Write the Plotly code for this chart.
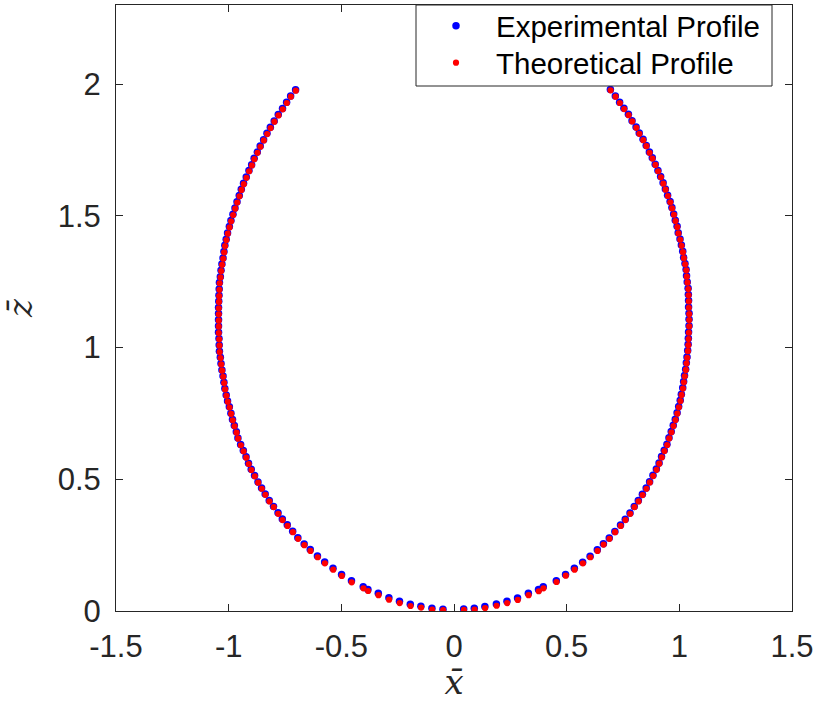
import plotly.graph_objects as go

# ---------------- data ----------------
# Theoretical profile, left branch (top -> bottom)
theo_x_left = [-0.702, -0.724, -0.742, -0.760, -0.779, -0.797, -0.814, -0.829, -0.844, -0.859,
               -0.872, -0.886, -0.897, -0.909, -0.921, -0.933, -0.943, -0.952, -0.962, -0.971,
               -0.980, -0.989, -0.996, -1.004, -1.010, -1.016, -1.020, -1.024, -1.029, -1.033,
               -1.036, -1.040, -1.041, -1.042, -1.043, -1.044, -1.044, -1.044, -1.044, -1.044,
               -1.042, -1.041, -1.040, -1.036, -1.033, -1.029, -1.024, -1.020, -1.016, -1.010,
               -1.004, -0.996, -0.989, -0.982, -0.974, -0.965, -0.958, -0.946, -0.934, -0.922,
               -0.911, -0.899, -0.884, -0.869, -0.853, -0.837, -0.819, -0.800, -0.780, -0.761,
               -0.739, -0.715, -0.692, -0.664, -0.637, -0.605, -0.573, -0.536, -0.498, -0.454,
               -0.402, -0.381, -0.335, -0.288, -0.241, -0.193, -0.146, -0.097, -0.048]
theo_z_left = [1.975, 1.952, 1.928, 1.904, 1.881, 1.857, 1.833, 1.810, 1.786, 1.762,
               1.739, 1.715, 1.691, 1.669, 1.644, 1.620, 1.598, 1.574, 1.550, 1.527,
               1.503, 1.479, 1.456, 1.432, 1.408, 1.385, 1.361, 1.337, 1.314, 1.290,
               1.266, 1.244, 1.219, 1.195, 1.173, 1.149, 1.126, 1.102, 1.079, 1.055,
               1.031, 1.007, 0.983, 0.960, 0.936, 0.912, 0.889, 0.865, 0.841, 0.817,
               0.794, 0.772, 0.748, 0.724, 0.701, 0.677, 0.654, 0.629, 0.606, 0.582,
               0.558, 0.535, 0.511, 0.487, 0.464, 0.441, 0.416, 0.394, 0.369, 0.345,
               0.323, 0.299, 0.274, 0.250, 0.228, 0.204, 0.181, 0.157, 0.133, 0.109,
               0.086, 0.076, 0.060, 0.043, 0.030, 0.019, 0.013, 0.005, 0.003]
# Theoretical profile, right branch (bottom -> top)
theo_x_right = [0.044, 0.091, 0.138, 0.189, 0.236, 0.283, 0.331, 0.376, 0.397, 0.455,
                0.496, 0.535, 0.572, 0.605, 0.637, 0.664, 0.690, 0.715, 0.740, 0.761,
                0.782, 0.801, 0.819, 0.837, 0.854, 0.869, 0.884, 0.899, 0.911, 0.922,
                0.934, 0.946, 0.955, 0.965, 0.974, 0.983, 0.991, 0.998, 1.005, 1.010,
                1.016, 1.020, 1.024, 1.029, 1.032, 1.035, 1.038, 1.040, 1.041, 1.042,
                1.044, 1.044, 1.044, 1.042, 1.042, 1.041, 1.040, 1.036, 1.033, 1.031,
                1.026, 1.020, 1.016, 1.010, 1.004, 0.996, 0.991, 0.983, 0.976, 0.968,
                0.960, 0.949, 0.939, 0.929, 0.918, 0.906, 0.894, 0.881, 0.868, 0.854,
                0.840, 0.823, 0.809, 0.791, 0.775, 0.755, 0.736, 0.717, 0.695]
theo_z_right = [0.004, 0.005, 0.011, 0.020, 0.030, 0.042, 0.060, 0.075, 0.086, 0.110,
                0.134, 0.157, 0.181, 0.204, 0.228, 0.252, 0.274, 0.299, 0.323, 0.345,
                0.369, 0.394, 0.416, 0.440, 0.464, 0.488, 0.512, 0.536, 0.559, 0.583,
                0.607, 0.630, 0.655, 0.678, 0.702, 0.725, 0.749, 0.773, 0.797, 0.820,
                0.844, 0.868, 0.891, 0.915, 0.939, 0.961, 0.986, 1.009, 1.032, 1.056,
                1.080, 1.104, 1.127, 1.151, 1.175, 1.198, 1.222, 1.246, 1.269, 1.293,
                1.316, 1.339, 1.362, 1.386, 1.409, 1.433, 1.457, 1.480, 1.504, 1.528,
                1.551, 1.575, 1.599, 1.622, 1.646, 1.669, 1.693, 1.717, 1.739, 1.764,
                1.787, 1.811, 1.834, 1.858, 1.882, 1.905, 1.928, 1.952, 1.976]

# Experimental profile (nearly coincident; slightly higher near the apex)
exp_x_left = [-0.703, -0.725, -0.743, -0.761, -0.780, -0.798, -0.815, -0.830, -0.845, -0.860,
              -0.873, -0.887, -0.898, -0.910, -0.922, -0.934, -0.944, -0.953, -0.963, -0.972,
              -0.981, -0.990, -0.997, -1.005, -1.011, -1.017, -1.021, -1.025, -1.030, -1.034,
              -1.037, -1.041, -1.042, -1.043, -1.044, -1.045, -1.045, -1.045, -1.045, -1.045,
              -1.043, -1.042, -1.041, -1.037, -1.034, -1.030, -1.025, -1.021, -1.017, -1.011,
              -1.005, -0.997, -0.990, -0.983, -0.975, -0.966, -0.959, -0.947, -0.935, -0.923,
              -0.912, -0.900, -0.885, -0.870, -0.854, -0.838, -0.820, -0.801, -0.781, -0.762,
              -0.740, -0.716, -0.693, -0.665, -0.638, -0.606, -0.574, -0.537, -0.499, -0.455,
              -0.403, -0.382, -0.336, -0.289, -0.242, -0.194, -0.147, -0.098, -0.049]
exp_z_left = [1.978, 1.955, 1.931, 1.907, 1.884, 1.860, 1.836, 1.813, 1.789, 1.765,
              1.742, 1.718, 1.694, 1.672, 1.647, 1.623, 1.601, 1.577, 1.553, 1.530,
              1.506, 1.482, 1.459, 1.435, 1.411, 1.388, 1.364, 1.340, 1.317, 1.293,
              1.269, 1.247, 1.222, 1.198, 1.176, 1.152, 1.129, 1.105, 1.082, 1.058,
              1.034, 1.010, 0.986, 0.963, 0.939, 0.915, 0.892, 0.868, 0.844, 0.820,
              0.797, 0.775, 0.751, 0.727, 0.704, 0.680, 0.657, 0.632, 0.609, 0.585,
              0.561, 0.538, 0.514, 0.490, 0.467, 0.444, 0.419, 0.397, 0.373, 0.349,
              0.327, 0.303, 0.278, 0.254, 0.233, 0.209, 0.186, 0.162, 0.139, 0.115,
              0.092, 0.082, 0.067, 0.050, 0.037, 0.026, 0.018, 0.010, 0.007]
exp_x_right = [0.043, 0.090, 0.137, 0.188, 0.235, 0.282, 0.330, 0.375, 0.396, 0.454,
               0.495, 0.534, 0.571, 0.604, 0.636, 0.663, 0.689, 0.714, 0.739, 0.760,
               0.781, 0.800, 0.818, 0.836, 0.853, 0.868, 0.883, 0.898, 0.910, 0.921,
               0.933, 0.945, 0.954, 0.964, 0.973, 0.982, 0.990, 0.997, 1.004, 1.009,
               1.015, 1.019, 1.023, 1.028, 1.031, 1.034, 1.037, 1.039, 1.040, 1.041,
               1.043, 1.043, 1.043, 1.041, 1.041, 1.040, 1.039, 1.035, 1.032, 1.030,
               1.025, 1.019, 1.015, 1.009, 1.003, 0.995, 0.990, 0.982, 0.975, 0.967,
               0.959, 0.948, 0.938, 0.928, 0.917, 0.905, 0.893, 0.880, 0.867, 0.853,
               0.839, 0.822, 0.808, 0.790, 0.774, 0.754, 0.735, 0.716, 0.694]
exp_z_right = [0.008, 0.010, 0.017, 0.027, 0.037, 0.049, 0.067, 0.082, 0.092, 0.115,
               0.139, 0.162, 0.185, 0.208, 0.232, 0.255, 0.277, 0.302, 0.326, 0.348,
               0.372, 0.397, 0.419, 0.443, 0.467, 0.491, 0.515, 0.539, 0.562, 0.586,
               0.610, 0.633, 0.658, 0.681, 0.705, 0.728, 0.752, 0.776, 0.800, 0.823,
               0.847, 0.871, 0.894, 0.918, 0.942, 0.964, 0.989, 1.012, 1.035, 1.059,
               1.083, 1.107, 1.130, 1.154, 1.178, 1.201, 1.225, 1.249, 1.272, 1.296,
               1.319, 1.342, 1.365, 1.389, 1.412, 1.436, 1.460, 1.483, 1.507, 1.531,
               1.554, 1.578, 1.602, 1.625, 1.649, 1.672, 1.696, 1.720, 1.742, 1.767,
               1.790, 1.814, 1.837, 1.861, 1.885, 1.908, 1.931, 1.955, 1.979]

x_ticks = [-1.5, -1, -0.5, 0, 0.5, 1, 1.5]
x_tick_labels = ["-1.5", "-1", "-0.5", "0", "0.5", "1", "1.5"]
y_ticks = [0, 0.5, 1, 1.5, 2]
y_tick_labels = ["0", "0.5", "1", "1.5", "2"]

series_names = ["Experimental Profile", "Theoretical Profile"]

# ---------------- figure ----------------
AX = "#262626"
FONT = "Liberation Sans, Arial, Helvetica, sans-serif"
PLOT_W, PLOT_H = 676, 606          # plot area in px (116..792, 5..611)

fig = go.Figure()
fig.add_trace(go.Scatter(
    x=exp_x_left + [None] + exp_x_right,
    y=exp_z_left + [None] + exp_z_right,
    mode="markers", name=series_names[0], legend="legend",
    marker=dict(color="#0000FF", size=7.5, line=dict(width=0)),
))
fig.add_trace(go.Scatter(
    x=theo_x_left + [None] + theo_x_right,
    y=theo_z_left + [None] + theo_z_right,
    mode="markers", name=series_names[1], legend="legend2",
    marker=dict(color="#FF0000", size=6.2, line=dict(width=0)),
))

axis_common = dict(
    showline=True, linecolor=AX, linewidth=1, mirror="ticks",
    ticks="inside", ticklen=7, tickwidth=1, tickcolor=AX,
    showgrid=False, zeroline=False, automargin=False,
    tickfont=dict(family=FONT, size=31, color=AX),
)

legend_common = dict(
    xanchor="left", yanchor="top",
    x=(416 - 116) / PLOT_W,
    bgcolor="rgba(0,0,0,0)", borderwidth=0,
    font=dict(family=FONT, size=29.5, color="black"),
    itemwidth=70,
)

fig.update_layout(
    width=816, height=702, autosize=False,
    margin=dict(l=116, r=24, t=5, b=91, autoexpand=False),
    paper_bgcolor="white", plot_bgcolor="white",
    xaxis=dict(range=[-1.5, 1.5], tickvals=x_ticks, ticktext=x_tick_labels,
               ticklabelstandoff=8,
               title=dict(text="<i>x\u0304</i>", font=dict(family="DejaVu Serif", size=34, color=AX),
                          standoff=12),
               **axis_common),
    yaxis=dict(range=[0, 2.3], tickvals=y_ticks, ticktext=y_tick_labels,
               ticklabelstandoff=8,
               title=dict(text="<i>z\u0304</i>", font=dict(family="DejaVu Serif", size=34, color=AX),
                          standoff=29),
               **axis_common),
    legend=dict(y=1 + 5 / PLOT_H, **legend_common),
    legend2=dict(y=1 - 32 / PLOT_H, **legend_common),
    showlegend=True,
    shapes=[dict(type="rect", xref="paper", yref="paper", layer="above",
                 x0=(416 - 116) / PLOT_W, x1=(772 - 116) / PLOT_W,
                 y0=1 - (86 - 5) / PLOT_H, y1=1,
                 fillcolor="white", line=dict(color=AX, width=1))],
)

fig.write_html("out.html")
